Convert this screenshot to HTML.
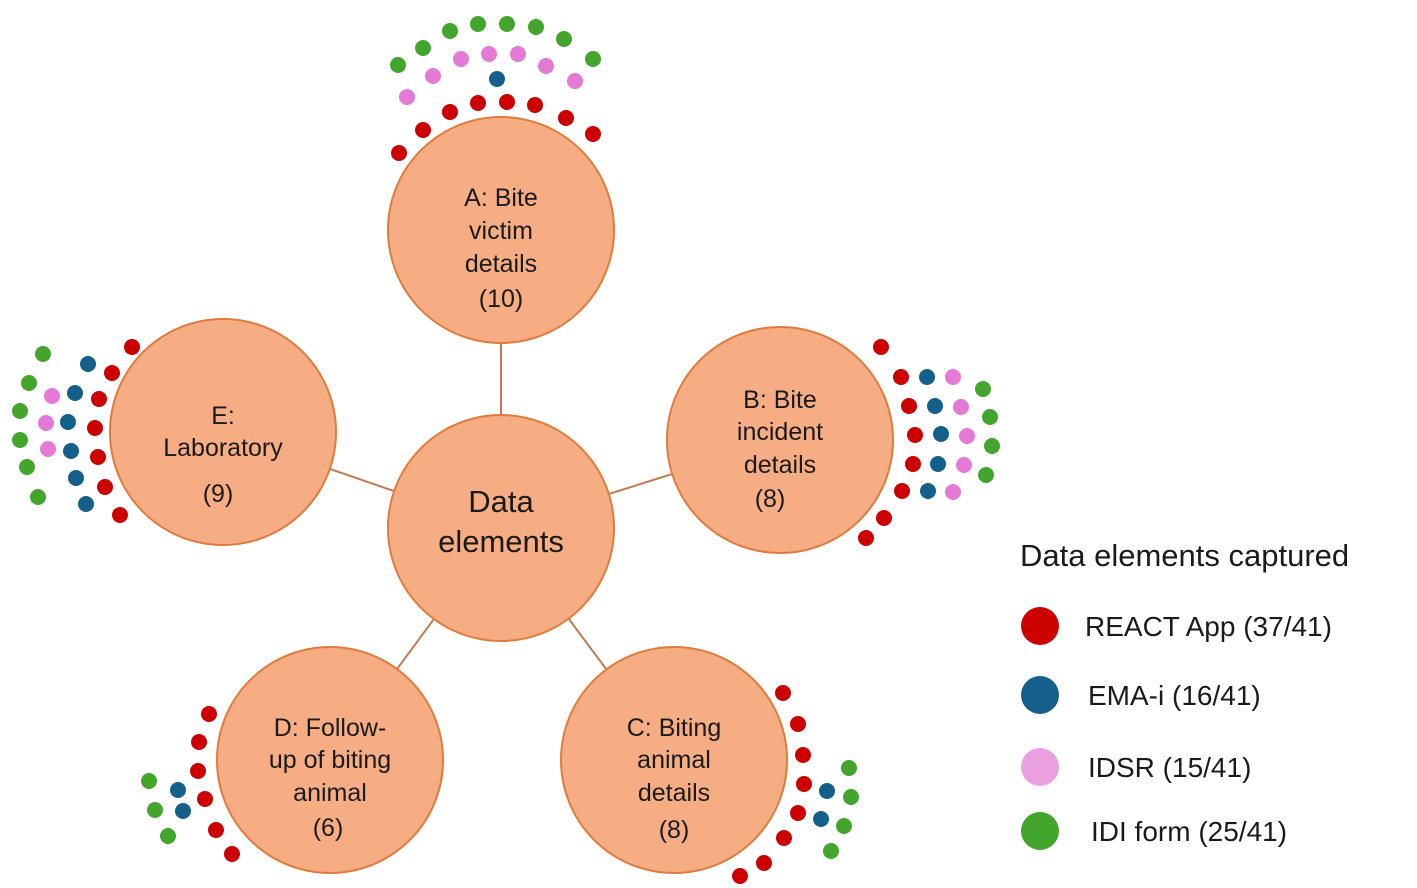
<!DOCTYPE html>
<html><head><meta charset="utf-8"><style>
html,body{margin:0;padding:0;background:#fff;}
svg{display:block;}
text{font-family:"Liberation Sans",sans-serif;fill:#1a1a1a;}
</style></head><body>
<svg width="1417" height="888" viewBox="0 0 1417 888" xmlns="http://www.w3.org/2000/svg">
<g stroke="#c07a52" stroke-width="2">
<line x1="501" y1="528" x2="501" y2="230"/>
<line x1="501" y1="528" x2="780" y2="440"/>
<line x1="501" y1="528" x2="223" y2="432"/>
<line x1="501" y1="528" x2="330" y2="760"/>
<line x1="501" y1="528" x2="674" y2="760"/>
</g>
<g fill="#f7ad84" stroke="#e07b3c" stroke-width="2">
<circle cx="501" cy="230" r="113"/>
<circle cx="780" cy="440" r="113"/>
<circle cx="223" cy="432" r="113"/>
<circle cx="330" cy="760" r="113"/>
<circle cx="674" cy="760" r="113"/>
<circle cx="501" cy="528" r="113"/>
</g>
<g font-size="25" text-anchor="middle">
<text x="501" y="206">A: Bite</text><text x="501" y="239">victim</text><text x="501" y="272">details</text><text x="501" y="307">(10)</text>
<text x="780" y="408">B: Bite</text><text x="780" y="440">incident</text><text x="780" y="473">details</text><text x="770" y="507">(8)</text>
<text x="223" y="424">E:</text><text x="223" y="456">Laboratory</text><text x="218" y="502">(9)</text>
<text x="330" y="736">D: Follow-</text><text x="330" y="768">up of biting</text><text x="330" y="801">animal</text><text x="328" y="836">(6)</text>
<text x="674" y="736">C: Biting</text><text x="674" y="768">animal</text><text x="674" y="801">details</text><text x="674" y="838">(8)</text>
<text x="501" y="512" font-size="31">Data</text><text x="501" y="552" font-size="31">elements</text>
</g>
<g fill="#cc0000">
<circle cx="399" cy="153" r="8"/><circle cx="423" cy="130" r="8"/><circle cx="450" cy="112" r="8"/><circle cx="478" cy="103" r="8"/><circle cx="507" cy="102" r="8"/><circle cx="535" cy="105" r="8"/><circle cx="566" cy="118" r="8"/><circle cx="593" cy="134" r="8"/>
<circle cx="132" cy="347" r="8"/><circle cx="112" cy="373" r="8"/><circle cx="99" cy="399" r="8"/><circle cx="95" cy="428" r="8"/><circle cx="98" cy="457" r="8"/><circle cx="105" cy="487" r="8"/><circle cx="120" cy="515" r="8"/>
<circle cx="881" cy="347" r="8"/><circle cx="901" cy="377" r="8"/><circle cx="909" cy="406" r="8"/><circle cx="915" cy="435" r="8"/><circle cx="913" cy="464" r="8"/><circle cx="902" cy="491" r="8"/><circle cx="884" cy="518" r="8"/><circle cx="866" cy="538" r="8"/>
<circle cx="209" cy="714" r="8"/><circle cx="199" cy="742" r="8"/><circle cx="198" cy="771" r="8"/><circle cx="205" cy="799" r="8"/><circle cx="216" cy="830" r="8"/><circle cx="232" cy="854" r="8"/>
<circle cx="783" cy="693" r="8"/><circle cx="798" cy="724" r="8"/><circle cx="803" cy="755" r="8"/><circle cx="804" cy="784" r="8"/><circle cx="798" cy="813" r="8"/><circle cx="784" cy="838" r="8"/><circle cx="764" cy="863" r="8"/><circle cx="740" cy="876" r="8"/>
</g>
<g fill="#14608a">
<circle cx="497" cy="79" r="8"/>
<circle cx="88" cy="364" r="8"/><circle cx="75" cy="393" r="8"/><circle cx="68" cy="422" r="8"/><circle cx="71" cy="451" r="8"/><circle cx="76" cy="478" r="8"/><circle cx="86" cy="504" r="8"/>
<circle cx="927" cy="377" r="8"/><circle cx="935" cy="406" r="8"/><circle cx="941" cy="434" r="8"/><circle cx="938" cy="464" r="8"/><circle cx="928" cy="491" r="8"/>
<circle cx="178" cy="790" r="8"/><circle cx="183" cy="811" r="8"/>
<circle cx="827" cy="791" r="8"/><circle cx="821" cy="819" r="8"/>
</g>
<g fill="#e57ad6">
<circle cx="407" cy="97" r="8"/><circle cx="433" cy="76" r="8"/><circle cx="461" cy="59" r="8"/><circle cx="489" cy="54" r="8"/><circle cx="518" cy="54" r="8"/><circle cx="546" cy="66" r="8"/><circle cx="575" cy="81" r="8"/>
<circle cx="52" cy="396" r="8"/><circle cx="46" cy="423" r="8"/><circle cx="48" cy="449" r="8"/>
<circle cx="953" cy="377" r="8"/><circle cx="961" cy="407" r="8"/><circle cx="967" cy="436" r="8"/><circle cx="964" cy="465" r="8"/><circle cx="953" cy="492" r="8"/>
</g>
<g fill="#44a52c">
<circle cx="398" cy="65" r="8"/><circle cx="423" cy="48" r="8"/><circle cx="450" cy="31" r="8"/><circle cx="478" cy="24" r="8"/><circle cx="507" cy="24" r="8"/><circle cx="536" cy="27" r="8"/><circle cx="564" cy="39" r="8"/><circle cx="593" cy="59" r="8"/>
<circle cx="43" cy="354" r="8"/><circle cx="29" cy="383" r="8"/><circle cx="20" cy="411" r="8"/><circle cx="20" cy="440" r="8"/><circle cx="27" cy="467" r="8"/><circle cx="38" cy="497" r="8"/>
<circle cx="983" cy="389" r="8"/><circle cx="990" cy="417" r="8"/><circle cx="992" cy="446" r="8"/><circle cx="986" cy="475" r="8"/>
<circle cx="149" cy="781" r="8"/><circle cx="155" cy="810" r="8"/><circle cx="168" cy="836" r="8"/>
<circle cx="849" cy="768" r="8"/><circle cx="851" cy="797" r="8"/><circle cx="844" cy="826" r="8"/><circle cx="831" cy="851" r="8"/>
</g>
<text x="1020" y="566" font-size="31">Data elements captured</text>
<circle cx="1040" cy="626" r="19" fill="#cc0000"/>
<circle cx="1040" cy="695" r="19" fill="#14608a"/>
<circle cx="1040" cy="767" r="19" fill="#eaa0e0"/>
<circle cx="1040" cy="831" r="19" fill="#44a52c"/>
<g font-size="28">
<text x="1085" y="636">REACT App (37/41)</text>
<text x="1088" y="705">EMA-i (16/41)</text>
<text x="1088" y="777">IDSR (15/41)</text>
<text x="1091" y="841">IDI form (25/41)</text>
</g>
</svg>
</body></html>
